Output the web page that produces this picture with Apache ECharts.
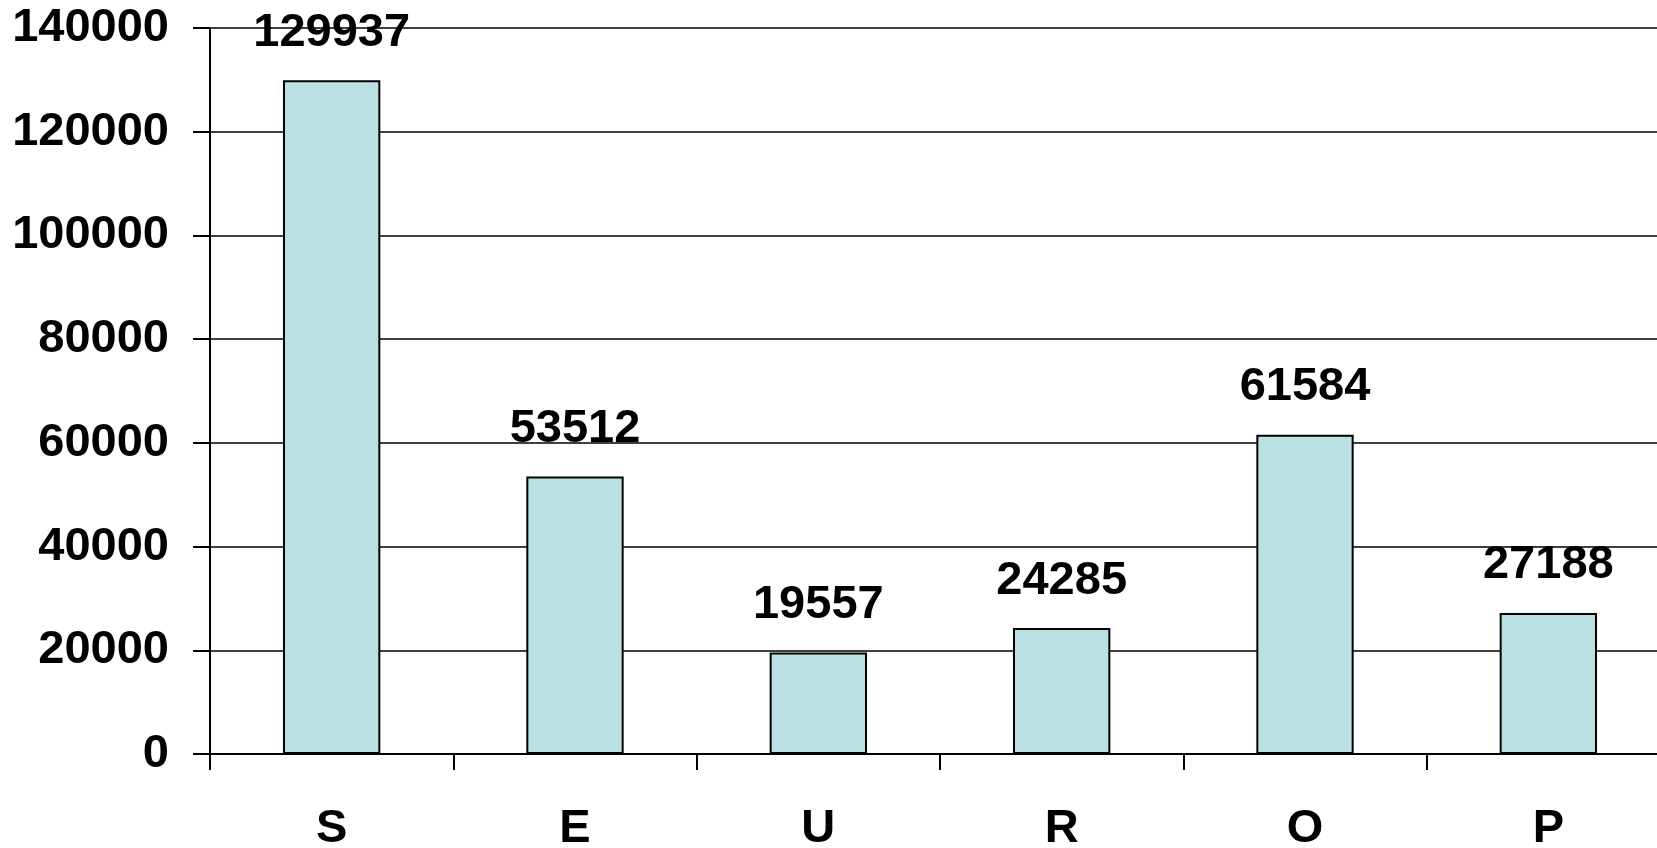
<!DOCTYPE html>
<html>
<head>
<meta charset="utf-8">
<script src="https://cdn.jsdelivr.net/npm/echarts@6/dist/echarts.min.js"></script>
<style>
    html, body { margin: 0; padding: 0; background: #fff; }
    #main { width: 1657px; height: 848px; }
</style>
</head>
<body>
<div id="main"></div>
<script>
var categories = ['S', 'E', 'U', 'R', 'O', 'P'];
var values = [129937, 53512, 19557, 24285, 61584, 27188];
var yTicks = [0, 20000, 40000, 60000, 80000, 100000, 120000, 140000];

var font = '"Liberation Sans", Arial, sans-serif';
var chart = echarts.init(document.getElementById('main'));

var option = {
    animation: false,
    backgroundColor: '#fff',
    grid: {
        left: 210,
        top: 28,
        width: 1460,
        bottom: 94,
        outerBoundsMode: 'none'
    },
    xAxis: {
        type: 'category',
        data: categories,
        axisLine: { lineStyle: { color: '#000', width: 2 } },
        axisTick: { show: true, length: 16, alignWithLabel: false, lineStyle: { color: '#000', width: 2 } },
        axisLabel: {
            color: '#000',
            fontFamily: font,
            fontWeight: 'bold',
            fontSize: 47,
            margin: 52
        }
    },
    yAxis: {
        type: 'value',
        min: yTicks[0],
        max: yTicks[yTicks.length - 1],
        interval: 20000,
        axisLine: { show: true, lineStyle: { color: '#000', width: 2 } },
        axisTick: { show: true, length: 17, lineStyle: { color: '#000', width: 2 } },
        splitLine: { show: true, lineStyle: { color: '#000', width: 1.5 } },
        axisLabel: {
            color: '#000',
            fontFamily: font,
            fontWeight: 'bold',
            fontSize: 47,
            margin: 41,
            formatter: function (v) { return String(v); }
        }
    },
    series: [{
        type: 'bar',
        data: values,
        barWidth: '40%',
        itemStyle: {
            color: '#bbe0e3',
            borderColor: '#000',
            borderWidth: 2
        },
        label: {
            show: true,
            position: 'top',
            distance: 24,
            color: '#000',
            fontFamily: font,
            fontWeight: 'bold',
            fontSize: 47
        }
    }]
};

chart.setOption(option);
</script>
</body>
</html>
